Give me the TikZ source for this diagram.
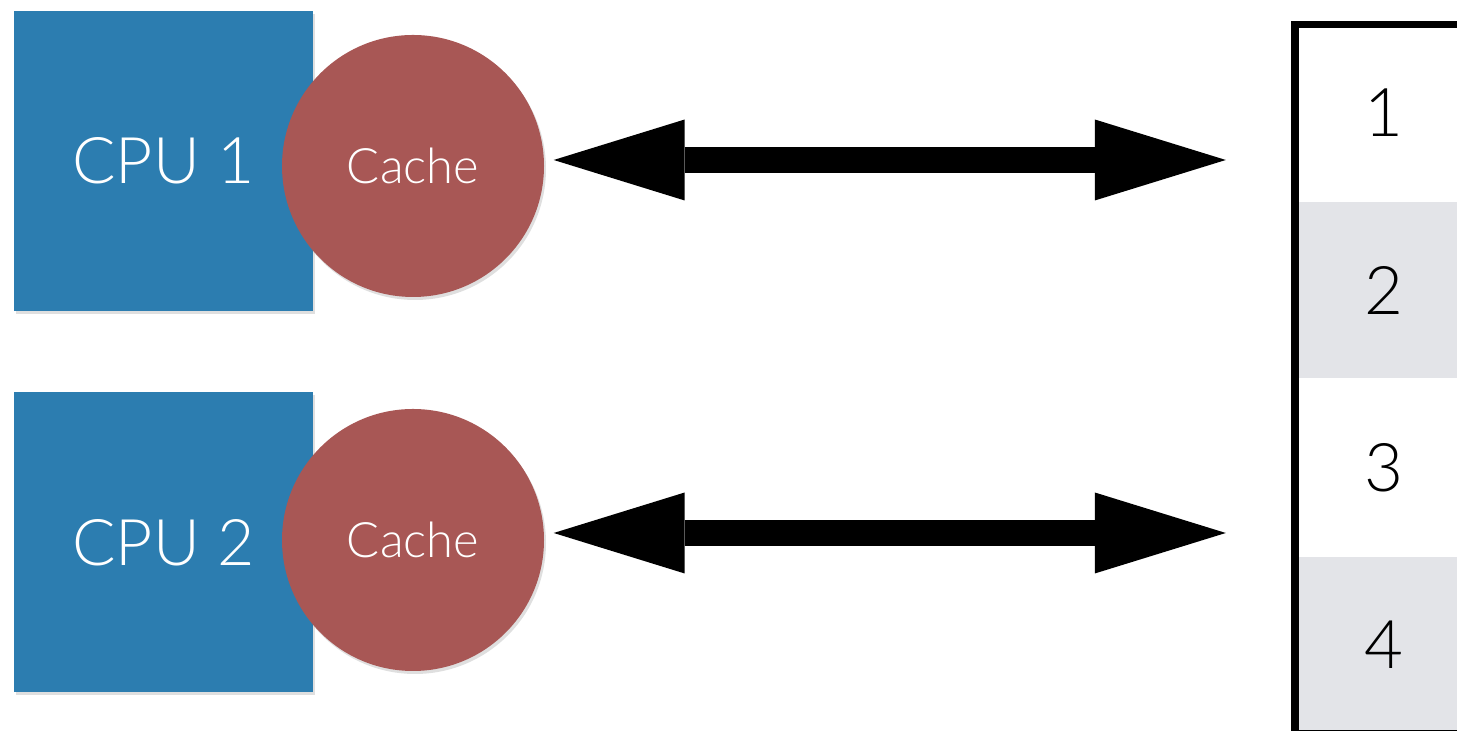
\documentclass[tikz,border=0pt]{standalone}
\usepackage{fontspec}
\setmainfont{Lato Light}
\usetikzlibrary{arrows.meta,positioning,shadows}

\definecolor{cpublue}{RGB}{44,125,176}
\definecolor{cachered}{RGB}{168,87,85}
\definecolor{rowgray}{RGB}{227,228,232}

\tikzset{
	cpu/.style={rectangle, fill=cpublue, minimum width=2.99cm, minimum height=3cm,
		text=white, font=\fontsize{18.3}{20}\selectfont,
		drop shadow={opacity=0.25, shadow xshift=0.02cm, shadow yshift=-0.03cm}},
	cache/.style={circle, fill=cachered, minimum size=2.62cm, inner sep=0pt,
		text=white, font=\fontsize{13.9}{16}\selectfont,
		drop shadow={opacity=0.25, shadow xshift=0.02cm, shadow yshift=-0.03cm}},
	bus/.style={line width=0.26cm,
		{Triangle[length=1.31cm,width=0.81cm,line width=0pt]}-{Triangle[length=1.31cm,width=0.81cm,line width=0pt]}},
	cell/.style={rectangle, minimum size=1.76cm, inner sep=0pt, font=\fontsize{19.1}{21}\selectfont},
}

\begin{document}
\begin{tikzpicture}
	\clip (0,0) rectangle (14.57,7.31);
	% processors with their caches
	\node[cpu] (cpu1) at (1.635,5.70) {CPU 1};
	\node[cpu] (cpu2) at (1.635,1.885) {CPU 2};
	\node[cache] (cache1) at (4.13,5.65) {Cache};
	\node[cache] (cache2) at (4.13,1.91) {Cache};
	% main memory
	\node[cell] (mem1) at (13.835,6.18) {1};
	\node[cell, fill=rowgray, below=0pt of mem1] (mem2) {2};
	\node[cell, below=0pt of mem2] (mem3) {3};
	\node[cell, fill=rowgray, below=0pt of mem3] (mem4) {4};
	\draw[line width=0.075cm] (mem1.north west) rectangle (mem4.south east);
	% buses
	\coordinate (b1) at ([shift={(0.09,0.06)}]cache1.east);
	\coordinate (b2) at ([shift={(0.09,0.07)}]cache2.east);
	\draw[bus, shorten >=0.69cm] (b1) -- (b1 -| mem1.west);
	\draw[bus, shorten >=0.69cm] (b2) -- (b2 -| mem1.west);
\end{tikzpicture}
\end{document}
